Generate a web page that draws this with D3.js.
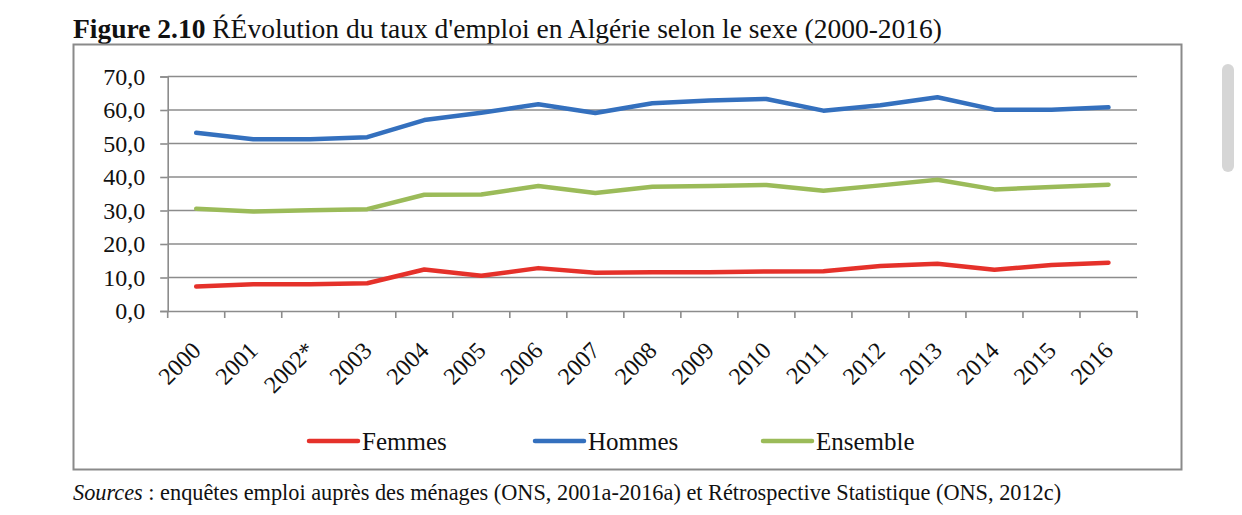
<!DOCTYPE html>
<html><head><meta charset="utf-8">
<script src="https://cdn.jsdelivr.net/npm/d3@7"></script>
<style>
html,body{margin:0;padding:0;background:#fff;}
svg{display:block;font-family:"Liberation Serif","Times New Roman",serif;}
</style></head>
<body><svg id="c" width="1242" height="515"></svg>
<script>
const years = ["2000","2001","2002*","2003","2004","2005","2006","2007","2008","2009","2010","2011","2012","2013","2014","2015","2016"];
const femmes = [7.3,8.0,8.0,8.3,12.4,10.5,12.8,11.4,11.6,11.6,11.8,11.9,13.4,14.1,12.3,13.7,14.4];
const hommes = [53.2,51.3,51.3,51.9,57.0,59.2,61.7,59.1,62.0,62.8,63.3,59.8,61.4,63.8,60.1,60.1,60.8];
const ensemble = [30.5,29.7,30.1,30.4,34.7,34.8,37.3,35.2,37.1,37.3,37.6,35.9,37.5,39.2,36.3,37.0,37.7];
const yTicks = [0,10,20,30,40,50,60,70];
const seriesNames = ["Femmes","Hommes","Ensemble"];
const seriesColors = ["#E5312A","#3470BE","#9BBB59"];

const FONT = "Liberation Serif, Times New Roman, serif";
const svg = d3.select("#c");
const fmt = v => v.toFixed(1).replace(".", ",");

// title
const t = svg.append("text").attr("x",73).attr("y",38).attr("font-size",27.5).attr("fill","#111");
t.append("tspan").attr("font-weight","bold").text("Figure 2.10");
t.append("tspan").text(" ŔÉvolution du taux d'emploi en Algérie selon le sexe (2000-2016)");

// frame
svg.append("rect").attr("x",73.5).attr("y",44.5).attr("width",1108).attr("height",425)
  .attr("fill","none").attr("stroke","#8a8a8a").attr("stroke-width",2);

const L=167.7, R=1137, T=76.5, B=311;
const x = d3.scaleBand().domain(years).range([L,R]);
const y = d3.scaleLinear().domain([0,70]).range([B,T]);

// gridlines
svg.append("g").selectAll("line").data(yTicks.filter(d=>d>0)).join("line")
  .attr("x1",L).attr("x2",R).attr("y1",d=>y(d)).attr("y2",d=>y(d))
  .attr("stroke","#8c8c8c").attr("stroke-width",1.6);

// y axis
const ya = svg.append("g").attr("transform",`translate(${L},0)`)
  .call(d3.axisLeft(y).tickValues(yTicks).tickFormat(fmt).tickSize(7.5).tickPadding(15));
ya.attr("font-family",FONT);
ya.select(".domain").attr("stroke","#8c8c8c").attr("stroke-width",1.6);
ya.selectAll(".tick line").attr("stroke","#8c8c8c").attr("stroke-width",1.6);
ya.selectAll(".tick text").attr("font-size",24).attr("fill","#111").attr("font-family",FONT);

// x axis
const xa = svg.append("g").attr("transform",`translate(0,${B})`)
  .call(d3.axisBottom(x).tickSize(0).tickPadding(0));
xa.attr("font-family",FONT);
xa.select(".domain").attr("stroke","#8c8c8c").attr("stroke-width",1.6);
// tick marks at band boundaries
const bounds = years.map(d=>x(d)).concat([R]);
svg.append("g").selectAll("line").data(bounds).join("line")
  .attr("x1",d=>d).attr("x2",d=>d).attr("y1",B).attr("y2",B+7)
  .attr("stroke","#8c8c8c").attr("stroke-width",1.6);
xa.selectAll(".tick text")
  .attr("font-size",24).attr("fill","#111").attr("font-family",FONT)
  .attr("text-anchor","end").attr("dy",0)
  .attr("transform","translate(6,41) rotate(-45)");

// lines
const data = [femmes,hommes,ensemble];
const line = d3.line().x((d,i)=>x(years[i])+x.bandwidth()/2).y(d=>y(d));
svg.append("g").selectAll("path").data(data).join("path")
  .attr("d",line).attr("fill","none")
  .attr("stroke",(d,i)=>seriesColors[i]).attr("stroke-width",4.5)
  .attr("stroke-linecap","round").attr("stroke-linejoin","round");

// legend
const legX = [309,535,763];
const lg = svg.append("g").selectAll("g").data(seriesNames).join("g")
  .attr("transform",(d,i)=>`translate(${legX[i]},441)`);
lg.append("line").attr("x1",0).attr("x2",49).attr("y1",0).attr("y2",0)
  .attr("stroke",(d,i)=>seriesColors[i]).attr("stroke-width",4.5).attr("stroke-linecap","round");
lg.append("text").attr("x",53).attr("y",9).attr("font-size",25).attr("fill","#111").text(d=>d);

// sources
const s = svg.append("text").attr("x",73).attr("y",500).attr("font-size",22.3).attr("fill","#111");
s.append("tspan").attr("font-style","italic").text("Sources");
s.append("tspan").text(" : enquêtes emploi auprès des ménages (ONS, 2001a-2016a) et Rétrospective Statistique (ONS, 2012c)");

// scrollbar decoration
svg.append("rect").attr("x",1222).attr("y",64).attr("width",12).attr("height",108).attr("rx",6)
  .attr("fill","#d6d6d6");
</script>
</body></html>
